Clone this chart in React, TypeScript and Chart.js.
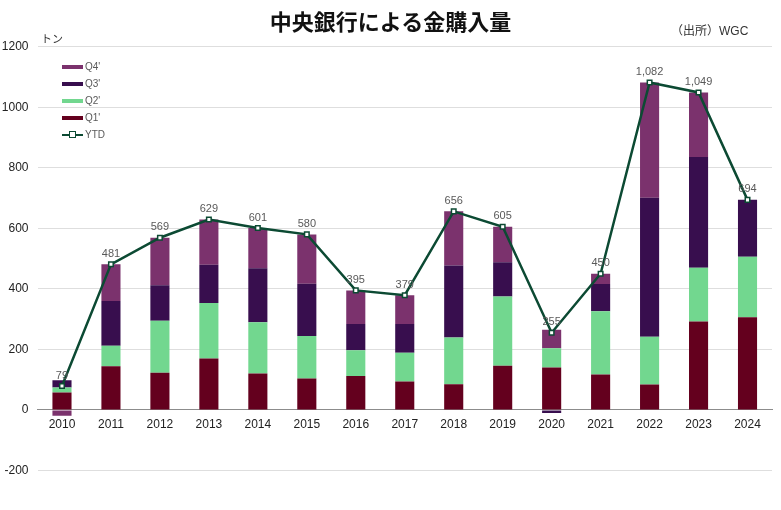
import React, { useEffect, useRef } from "react";
import { Chart, registerables } from "chart.js";

Chart.register(...registerables);

const years = ["2010","2011","2012","2013","2014","2015","2016","2017","2018","2019","2020","2021","2022","2023","2024"];
const q1 = [58,144,123,170,120,104,112,94,85,146,140,117,84,292,306];
const q2 = [16,68,172,183,170,140,85,95,154,229,64,209,158,178,200];
const q3 = [24,148,117,127,178,173,87,95,238,113,-10,90,459,366,188];
const q4 = [-19,121,157,149,133,163,111,95,179,117,61,34,381,213,0];
const ytd = [79,481,569,629,601,580,395,379,656,605,255,450,1082,1049,694];
const yTicks = [-200,0,200,400,600,800,1000,1200];

const C_Q1 = "#64001e";
const C_Q2 = "#72d78f";
const C_Q3 = "#380e4e";
const C_Q4 = "#7b326d";
const C_YTD = "#0c4a33";

const FONT = "'Liberation Sans', Arial, sans-serif";

const legendItems = [
  { label: "Q4'", color: C_Q4, line: false },
  { label: "Q3'", color: C_Q3, line: false },
  { label: "Q2'", color: C_Q2, line: false },
  { label: "Q1'", color: C_Q1, line: false },
  { label: "YTD", color: C_YTD, line: true },
];

const labelPlugin = {
  id: "ytdLabels",
  afterDatasetsDraw(chart: any) {
    const ctx = chart.ctx;
    const meta = chart.getDatasetMeta(4);
    ctx.save();
    ctx.font = `11px ${FONT}`;
    ctx.fillStyle = "#595959";
    ctx.textAlign = "center";
    ctx.textBaseline = "bottom";
    meta.data.forEach((pt: any, i: number) => {
      ctx.fillText(ytd[i].toLocaleString("en-US"), pt.x, pt.y - 5);
    });
    ctx.restore();
  },
};

export default function App() {
  const ref = useRef<HTMLCanvasElement | null>(null);
  useEffect(() => {
    if (!ref.current) return;
    const bar = (label: string, data: number[], color: string) => ({
      type: "bar" as const,
      label,
      data,
      backgroundColor: color,
      borderWidth: 0,
      stack: "s",
      order: 1,
      barPercentage: 0.39,
      categoryPercentage: 1,
    });
    const chart = new Chart(ref.current, {
      type: "bar",
      data: {
        labels: years,
        datasets: [
          bar("Q1'", q1, C_Q1),
          bar("Q2'", q2, C_Q2),
          bar("Q3'", q3, C_Q3),
          bar("Q4'", q4, C_Q4),
          {
            type: "line" as const,
            label: "YTD",
            data: ytd,
            borderColor: C_YTD,
            borderWidth: 2.5,
            pointStyle: "rect",
            pointRadius: 3.2,
            pointBackgroundColor: "#ffffff",
            pointBorderColor: C_YTD,
            pointBorderWidth: 1.5,
            order: 0,
            tension: 0,
          } as any,
        ],
      },
      options: {
        responsive: false,
        animation: false,
        layout: { padding: { left: 0, right: 9, top: 46.7, bottom: 10 } },
        plugins: { legend: { display: false }, tooltip: { enabled: false } },
        scales: {
          x: {
            stacked: true,
            position: { y: 0 } as any,
            grid: { display: false, drawTicks: false },
            border: { display: true, color: "#8c8c8c", width: 1 },
            ticks: { color: "#222", font: { size: 12, family: FONT }, padding: 8, maxRotation: 0 },
          },
          y: {
            stacked: true,
            min: -277,
            max: 1200,
            afterBuildTicks: (scale: any) => {
              scale.ticks = yTicks.map((v) => ({ value: v }));
            },
            afterFit: (scale: any) => {
              scale.width = 37.5;
            },
            grid: { color: "#dedede", lineWidth: 1, drawTicks: false },
            border: { display: false },
            ticks: {
              color: "#222",
              font: { size: 12, family: FONT },
              padding: 9,
              callback: (v: any) => String(v),
            },
          },
        },
      },
      plugins: [labelPlugin],
    });
    return () => chart.destroy();
  }, []);

  return (
    <div style={{ position: "absolute", left: 0, top: 0, width: 781, height: 510, background: "#fff", fontFamily: FONT }}>
      <canvas ref={ref} width={781} height={510} style={{ position: "absolute", left: 0, top: 0 }} />
      <div style={{ position: "absolute", left: 0, width: 781, top: 6, textAlign: "center", fontFamily: "'Noto Sans CJK JP', sans-serif", fontWeight: 700, fontSize: 22, lineHeight: "28px", color: "#111" }}>
        中央銀行による金購入量
      </div>
      <div style={{ position: "absolute", left: 671, top: 22, fontSize: 12, color: "#333", fontFamily: FONT, lineHeight: "16px", whiteSpace: "nowrap" }}>
        <span style={{ fontFamily: "'Noto Sans CJK JP', sans-serif" }}>（出所）</span>WGC
      </div>
      <div style={{ position: "absolute", left: 41, top: 31, fontSize: 11, color: "#333", fontFamily: "'Noto Sans CJK JP', sans-serif", lineHeight: "14px" }}>
        トン
      </div>
      {legendItems.map((it, i) => (
        <div key={it.label} style={{ position: "absolute", left: 62, top: 60 + i * 17, height: 13, display: "flex", alignItems: "center" }}>
          <div style={{ position: "relative", width: 21, height: 13 }}>
            {it.line ? (
              <>
                <div style={{ position: "absolute", left: 0, top: 5.5, width: 21, height: 2, background: it.color }} />
                <div style={{ position: "absolute", left: 7, top: 3, width: 5, height: 5, background: "#fff", border: `1.5px solid ${it.color}` }} />
              </>
            ) : (
              <div style={{ position: "absolute", left: 0, top: 4.5, width: 21, height: 4.5, background: it.color }} />
            )}
          </div>
          <span style={{ marginLeft: 2, fontSize: 10, color: "#595959" }}>{it.label}</span>
        </div>
      ))}
    </div>
  );
}
